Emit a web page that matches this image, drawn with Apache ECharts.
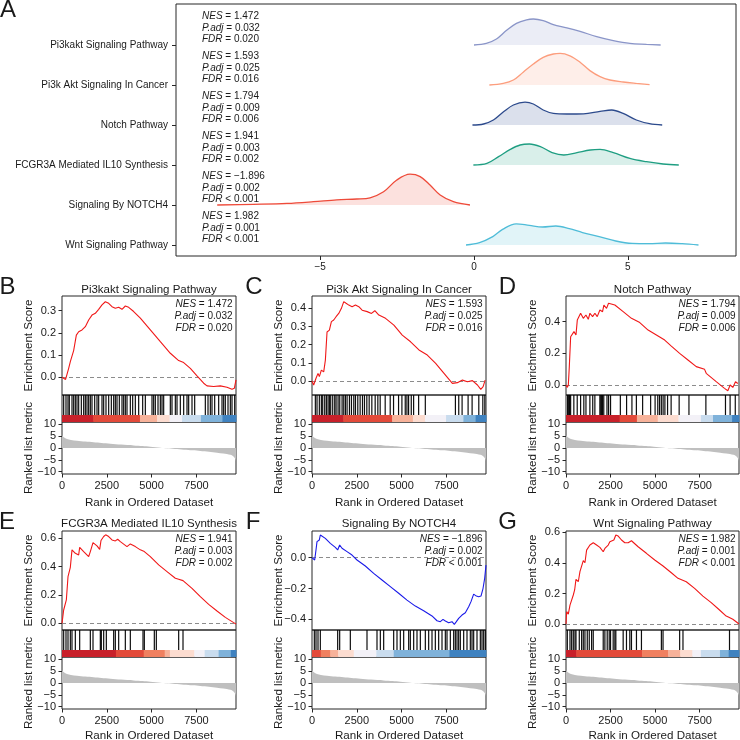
<!DOCTYPE html>
<html>
<head>
<meta charset="utf-8">
<script src="https://cdn.jsdelivr.net/npm/echarts@6/dist/echarts.min.js"></script>
<style>html,body{margin:0;padding:0;background:#fff}#chart{width:740px;height:740px}</style>
</head>
<body>
<div id="chart"></div>
<script>
// ---------------- DATA ----------------
const pathwayNames = ['Pi3kakt Signaling Pathway','Pi3k Akt Signaling In Cancer','Notch Pathway','FCGR3A Mediated IL10 Synthesis','Signaling By NOTCH4','Wnt Signaling Pathway'];
const nesValues = [1.472, 1.593, 1.794, 1.941, -1.896, 1.982];
const padjValues = ['0.032','0.025','0.009','0.003','0.002','0.001'];
const fdrValues = ['= 0.020','= 0.016','= 0.006','= 0.002','< 0.001','< 0.001'];
const ridgeTicks = [-5, 0, 5];
const ridgeColors = ['#8a95c8','#fc9d7d','#2c4a8c','#1f9e82','#ee4b3a','#4fbcd8'];

// ridge densities: [x, density]
const ridgePi3kakt = [[0.0,0],[0.4,0.04],[0.73,0.15],[1.05,0.36],[1.38,0.54],[1.71,0.63],[1.93,0.65],[2.25,0.61],[2.58,0.51],[3.02,0.43],[3.45,0.34],[3.99,0.21],[4.53,0.11],[5.07,0.04],[5.61,0.017],[6.07,0]];
const ridgePi3kAkt = [[0.5,0],[0.95,0.04],[1.28,0.125],[1.6,0.32],[1.93,0.525],[2.25,0.69],[2.58,0.775],[2.8,0.79],[3.12,0.73],[3.45,0.57],[3.77,0.36],[4.1,0.21],[4.42,0.125],[4.85,0.075],[5.28,0.04],[5.71,0.01]];
const ridgeNotch = [[-0.05,0],[0.31,0.025],[0.63,0.125],[0.96,0.33],[1.28,0.5],[1.66,0.57],[1.93,0.525],[2.25,0.375],[2.58,0.29],[3.02,0.275],[3.56,0.28],[4.1,0.34],[4.48,0.375],[4.85,0.29],[5.28,0.125],[5.71,0.033],[6.12,0]];
const ridgeFCGR3A = [[-0.02,0],[0.42,0.04],[0.8,0.21],[1.18,0.39],[1.5,0.5],[1.8,0.525],[2.16,0.46],[2.54,0.31],[2.92,0.25],[3.35,0.31],[3.78,0.375],[4.1,0.39],[4.53,0.31],[5.07,0.165],[5.61,0.083],[6.15,0.025],[6.66,0]];
const ridgeNOTCH4 = [[-8.35,0],[-7.17,0.017],[-6.08,0.04],[-5.22,0.083],[-4.46,0.13],[-3.81,0.15],[-3.38,0.18],[-2.94,0.33],[-2.51,0.625],[-2.08,0.77],[-1.75,0.71],[-1.43,0.5],[-1.1,0.25],[-0.67,0.083],[-0.13,0]];
const ridgeWnt = [[-0.26,0],[0.18,0.06],[0.61,0.21],[0.93,0.39],[1.37,0.53],[1.8,0.49],[2.23,0.45],[2.66,0.475],[3.1,0.41],[3.53,0.31],[4.07,0.21],[4.61,0.1],[5.15,0.04],[5.69,0.033],[6.23,0.05],[6.77,0.033],[7.3,0]];

const rankTicks = [0, 2500, 5000, 7500];
const rankMax = 9709;
const metricTicks = [-10, -5, 0, 5, 10];
const rankedMetric = [[0,5.4],[100,4.6],[279,3.8],[500,3.4],[837,3.1],[1300,2.7],[1767,2.4],[2200,2.1],[2700,1.8],[3300,1.45],[4000,1.1],[4500,0.8],[4930,0.56],[5490,0.14],[5860,-0.14],[6300,-0.4],[6790,-0.7],[7300,-1.0],[7720,-1.27],[8200,-1.6],[8650,-1.97],[9000,-2.3],[9200,-2.5],[9400,-2.9],[9550,-3.5],[9672,-4.6],[9709,-5.6]];

const esB = [[0,0],[93,-0.005],[200,-0.01],[372,0.04],[465,0.07],[558,0.078],[650,0.12],[800,0.19],[930,0.205],[1116,0.213],[1302,0.228],[1488,0.258],[1674,0.28],[1860,0.288],[2046,0.306],[2232,0.326],[2418,0.34],[2604,0.333],[2790,0.318],[2976,0.311],[3162,0.315],[3348,0.306],[3534,0.321],[3720,0.315],[3999,0.296],[4371,0.266],[4929,0.213],[5487,0.16],[6045,0.108],[6510,0.075],[6789,0.066],[7161,0.04],[7533,0.006],[7905,-0.027],[8091,-0.039],[8463,-0.042],[8835,-0.039],[9207,-0.045],[9486,-0.054],[9616,-0.05],[9709,-0.012]];
const esC = [[0,0],[93,-0.022],[224,0.015],[336,0.042],[410,0.024],[522,0.06],[653,0.05],[746,0.115],[839,0.27],[970,0.28],[1082,0.327],[1212,0.336],[1343,0.354],[1492,0.372],[1641,0.4],[1772,0.437],[1902,0.428],[2052,0.418],[2238,0.409],[2425,0.418],[2611,0.409],[2798,0.39],[3078,0.382],[3320,0.372],[3506,0.387],[3730,0.363],[4103,0.345],[4569,0.308],[5036,0.253],[5502,0.216],[5968,0.171],[6434,0.143],[6900,0.097],[7366,0.042],[7833,-0.013],[8113,-0.009],[8393,0.005],[8672,-0.004],[8952,0.002],[9232,-0.022],[9418,-0.046],[9549,-0.031],[9661,0.005]];
const esD = [[0,0],[75,-0.015],[130,0],[186,0.116],[261,0.305],[373,0.295],[448,0.337],[560,0.316],[634,0.41],[746,0.415],[820,0.453],[970,0.421],[1119,0.442],[1250,0.415],[1343,0.453],[1492,0.432],[1622,0.453],[1753,0.432],[1902,0.474],[2052,0.463],[2126,0.505],[2275,0.484],[2387,0.516],[2499,0.526],[2742,0.505],[3208,0.463],[3674,0.421],[4140,0.394],[4607,0.347],[5073,0.316],[5539,0.284],[5912,0.246],[6378,0.2],[6845,0.158],[7311,0.116],[7777,0.099],[7870,0.074],[8430,0.021],[8896,-0.021],[9083,-0.036],[9213,0],[9362,-0.015],[9512,0.021],[9643,0.01]];
const esE = [[0,0],[93,0.094],[186,0.082],[242,0.165],[335,0.329],[409,0.325],[465,0.395],[521,0.388],[558,0.518],[744,0.494],[930,0.482],[986,0.536],[1209,0.506],[1488,0.47],[1581,0.506],[1730,0.569],[1953,0.546],[2102,0.522],[2176,0.584],[2325,0.612],[2437,0.624],[2604,0.612],[2790,0.588],[2883,0.593],[2976,0.581],[3106,0.593],[3255,0.576],[3627,0.541],[3813,0.56],[4092,0.541],[4371,0.518],[4594,0.506],[4929,0.47],[5394,0.412],[5859,0.365],[6324,0.318],[6510,0.311],[6752,0.301],[7254,0.247],[7719,0.188],[8184,0.134],[8649,0.087],[9114,0.042],[9579,0.005],[9709,-0.005]];
const esF = [[0,0],[93,-0.011],[149,-0.015],[223,0.05],[279,0.104],[335,0.097],[409,0.115],[465,0.147],[744,0.125],[1023,0.093],[1302,0.067],[1432,0.05],[1544,0.082],[1674,0.061],[1953,0.039],[2232,0.017],[2511,-0.015],[2976,-0.054],[3441,-0.102],[3906,-0.145],[4371,-0.188],[4836,-0.231],[5301,-0.275],[5766,-0.314],[6231,-0.344],[6696,-0.378],[6975,-0.409],[7161,-0.415],[7310,-0.4],[7440,-0.411],[7626,-0.422],[7812,-0.415],[7942,-0.432],[8054,-0.415],[8184,-0.394],[8370,-0.372],[8556,-0.357],[8742,-0.318],[8872,-0.285],[9021,-0.236],[9170,-0.249],[9300,-0.253],[9430,-0.249],[9542,-0.2],[9635,-0.134],[9709,-0.048]];
const esG = [[0,0],[37,0.081],[130,0.065],[224,0.124],[317,0.113],[410,0.19],[485,0.223],[560,0.292],[690,0.277],[783,0.343],[877,0.353],[970,0.415],[1063,0.401],[1156,0.484],[1250,0.495],[1343,0.517],[1436,0.528],[1529,0.532],[1716,0.517],[1902,0.502],[2089,0.473],[2182,0.495],[2275,0.484],[2369,0.517],[2462,0.539],[2555,0.528],[2686,0.55],[2797,0.583],[2928,0.576],[3115,0.55],[3301,0.532],[3488,0.532],[3674,0.545],[3767,0.539],[4047,0.506],[4513,0.463],[4980,0.419],[5446,0.38],[5912,0.336],[6285,0.299],[6751,0.277],[7218,0.233],[7684,0.183],[8150,0.14],[8616,0.092],[8989,0.052],[9139,0.044],[9176,0.052],[9362,0.031],[9549,0.015],[9709,0]];

const hitsB = [93,223,335,409,558,651,744,837,930,1079,1209,1302,1395,1488,1581,1674,1823,1953,2046,2232,2325,2455,2604,2753,2883,2976,3069,3199,3348,3441,3534,3627,3813,3943,4092,4278,4501,4650,5022,5115,5208,5357,5487,5580,5673,6045,6138,6324,6417,6603,6789,6975,7068,7254,7403,7998,8147,8277,8370,8519,8742,8928,9021,9114,9263,9393,9486,9635];
const hitsC = [187,280,410,522,597,709,802,895,970,1044,1156,1268,1343,1455,1548,1679,1772,1865,1958,2089,2201,2331,2425,2555,2686,2817,2928,3059,3190,3339,3525,3674,3804,4084,4364,4550,4830,5017,5203,5297,5390,5539,5670,5950,6323,8002,8188,8375,8710,8934,9307,9531,9643];
const hitsD = [90,150,200,260,440,630,820,1000,1120,1340,1500,1620,1900,1950,2000,2050,2120,2300,2390,2500,3050,3400,3700,3950,4300,4750,5000,5150,5250,5350,5450,5550,5700,5900,6350,6900,7850,8950,9210,9500];
const hitsE = [93,223,335,465,558,744,986,1581,1730,2139,2195,2325,2474,2883,2976,3162,3534,3813,4520,4594,5152,5264,6510,6752];
const hitsF = [130,223,335,465,1432,1544,2139,3069,3627,3813,3999,4557,4743,4929,5115,5394,5487,5673,5859,6045,6324,6510,6696,6882,7068,7254,7440,7533,7719,7905,7998,8091,8184,8277,8463,8649,8835,8928,9021,9207,9393,9486,9579,9672];
const hitsG = [75,224,317,410,504,560,746,877,970,1063,1194,1306,1436,1529,2089,2182,2313,2425,2499,2648,2742,2797,3208,3394,3581,3674,3954,4234,5353,5446,6378,6565,9176];

const barPalette = ['#c8202a','#e34a3a','#f08060','#f7b29a','#fcdcd0','#f3f1f7','#c9dcee','#7fb2da','#3f82c0'];
// [startRank, endRank, paletteIndex]
const barB = [[0,1750,0],[1750,4350,1],[4350,5300,3],[5300,6000,4],[6000,6700,5],[6700,7750,6],[7750,8950,7],[8950,9709,8]];
const barC = [[0,1750,0],[1750,4470,1],[4470,5630,3],[5630,6310,4],[6310,7480,5],[7480,8450,6],[8450,9130,7],[9130,9709,8]];
const barD = [[0,3010,0],[3010,3980,1],[3980,5150,3],[5150,6310,4],[6310,7570,5],[7570,8250,6],[8250,9320,7],[9320,9709,8]];
const barE = [[0,3010,0],[3010,4560,1],[4560,5730,2],[5730,6020,3],[6020,7380,4],[7380,7960,5],[7960,8740,6],[8740,9420,7],[9420,9709,8]];
const barF = [[0,490,1],[490,1020,2],[1020,1460,3],[1460,2330,4],[2330,3590,5],[3590,4560,6],[4560,7670,7],[7670,9709,8]];
const barG = [[0,580,0],[580,4270,1],[4270,5730,2],[5730,6410,3],[6410,7090,4],[7090,7570,5],[7570,8640,6],[8640,9130,7],[9130,9709,8]];

const esTicksB = [0,0.1,0.2,0.3], esTicksC = [0,0.1,0.2,0.3,0.4], esTicksD = [0,0.2,0.4], esTicksE = [0,0.2,0.4,0.6], esTicksF = [-0.4,-0.2,0], esTicksG = [0,0.2,0.4,0.6];

// ---------------- BUILD ----------------
const FONT = '"Liberation Sans", Arial, Helvetica, sans-serif';
const TXT = '#1a1a1a';
const SPINE = '#262626';
const minus = s => String(s).replace('-', '\u2212');
const grids = [], xAxes = [], yAxes = [], series = [], graphics = [];
function addGrid(g) {
  grids.push(Object.assign({show: true, borderColor: SPINE, borderWidth: 1, backgroundColor: 'transparent', containLabel: false, outerBoundsMode: 'none'}, g));
  return grids.length - 1;
}
const noLine = {show: false, onZero: false};
function tickStyle(vals, len) { return {show: true, inside: false, length: len, lineStyle: {color: SPINE, width: 1}, customValues: vals}; }
function text(x, y, str, extra) {
  graphics.push(Object.assign({type: 'text', x: x, y: y, z: 100, style: Object.assign({text: str, fontFamily: FONT, fontSize: 11.6, fill: TXT, align: 'center', verticalAlign: 'middle'}, extra && extra.style)}, extra && extra.el));
}
function statText(x, y, str, align) {
  graphics.push({type: 'text', x: x, y: y, z: 100, style: {text: str, fontFamily: FONT, fontSize: 10, fill: TXT, align: align, verticalAlign: 'middle',
    rich: {i: {fontStyle: 'italic', fontFamily: FONT, fontSize: 10, fill: TXT}, n: {fontFamily: FONT, fontSize: 10, fill: TXT}}}});
}
function statLines(i) {
  return ['{i|NES}{n| = ' + minus(nesValues[i].toFixed(3)) + '}', '{i|P.adj}{n| = ' + padjValues[i] + '}', '{i|FDR}{n| ' + fdrValues[i] + '}'];
}

// Panel A
const ridges = [ridgePi3kakt, ridgePi3kAkt, ridgeNotch, ridgeFCGR3A, ridgeNOTCH4, ridgeWnt];
const catIdx = [0,1,2,3,4,5];
const gA = addGrid({left: 176, top: 4, width: 560, height: 252});
xAxes.push({gridIndex: gA, type: 'value', min: -9.69, max: 8.52, axisLine: noLine, splitLine: {show: false},
  axisTick: tickStyle(ridgeTicks, 4), axisLabel: {customValues: ridgeTicks, formatter: v => minus(v), fontSize: 10, fontFamily: FONT, color: TXT, margin: 6}});
const xA = xAxes.length - 1;
yAxes.push({gridIndex: gA, type: 'value', inverse: true, min: -1.025, max: 5.275, axisLine: noLine, splitLine: {show: false},
  axisTick: tickStyle(catIdx, 4), axisLabel: {customValues: catIdx, formatter: v => pathwayNames[Math.round(v)] || '', fontSize: 10, fontFamily: FONT, color: TXT, margin: 8}});
const yA = yAxes.length - 1;
ridges.forEach((r, i) => {
  series.push({type: 'line', xAxisIndex: xA, yAxisIndex: yA, data: r.map(p => [p[0], i - p[1]]), smooth: 0.35, symbol: 'none', z: 2 + i,
    lineStyle: {color: ridgeColors[i], width: 1.3}, areaStyle: {color: ridgeColors[i], opacity: 0.17, origin: i}, silent: true});
  const cy = 45 + 40 * i;
  const lines = statLines(i);
  statText(202, cy - 29, lines[0], 'left');
  statText(202, cy - 17.2, lines[1], 'left');
  statText(202, cy - 5.4, lines[2], 'left');
});
text(8, 10, 'A', {style: {fontSize: 24}});

// GSEA panels
const panels = [
  {letter: 'B', lx: 7.5,  es: esB, hits: hitsB, bar: barB, yMin: -0.08,  yMax: 0.366, ticks: esTicksB, col: 0, row: 0, color: '#f01818'},
  {letter: 'C', lx: 254,  es: esC, hits: hitsC, bar: barC, yMin: -0.077, yMax: 0.468, ticks: esTicksC, col: 1, row: 0, color: '#f01818'},
  {letter: 'D', lx: 507.5,es: esD, hits: hitsD, bar: barD, yMin: -0.063, yMax: 0.562, ticks: esTicksD, col: 2, row: 0, color: '#f01818'},
  {letter: 'E', lx: 7,    es: esE, hits: hitsE, bar: barE, yMin: -0.047, yMax: 0.651, ticks: esTicksE, col: 0, row: 1, color: '#f01818'},
  {letter: 'F', lx: 253,  es: esF, hits: hitsF, bar: barF, yMin: -0.469, yMax: 0.173, ticks: esTicksF, col: 1, row: 1, color: '#1a1ae8'},
  {letter: 'G', lx: 507.5,es: esG, hits: hitsG, bar: barG, yMin: -0.039, yMax: 0.609, ticks: esTicksG, col: 2, row: 1, color: '#f01818'}
];
const colLeft = [62, 312, 566], colW = [174, 174, 173], rowOff = [0, 235];
const BAR_TOP = 0.26;
panels.forEach((p, k) => {
  const L = colLeft[p.col], W = colW[p.col], off = rowOff[p.row];
  const esTop = 296 + off, hitTop = 395 + off, rkTop = 422 + off;
  // ES grid
  const g1 = addGrid({left: L, top: esTop, width: W, height: 99});
  xAxes.push({gridIndex: g1, type: 'value', min: 0, max: rankMax, show: false, axisLine: noLine});
  yAxes.push({gridIndex: g1, type: 'value', min: p.yMin, max: p.yMax, axisLine: noLine, splitLine: {show: false},
    axisTick: tickStyle(p.ticks, 3.5), axisLabel: {customValues: p.ticks, formatter: v => minus(v.toFixed(1)), fontSize: 11, fontFamily: FONT, color: TXT, margin: 6}});
  series.push({type: 'line', xAxisIndex: xAxes.length - 1, yAxisIndex: yAxes.length - 1, data: p.es, symbol: 'none', silent: true,
    lineStyle: {color: p.color, width: 1.1}, z: 5,
    markLine: {silent: true, symbol: 'none', label: {show: false}, lineStyle: {color: '#8c8c8c', type: [4, 3], width: 1}, data: [{yAxis: 0}], z: 3}});
  // hits grid
  const g2 = addGrid({left: L, top: hitTop, width: W, height: 27});
  xAxes.push({gridIndex: g2, type: 'value', min: 0, max: rankMax, show: false, axisLine: noLine});
  yAxes.push({gridIndex: g2, type: 'value', min: 0, max: 1, show: false, axisLine: noLine});
  const xi = xAxes.length - 1, yi = yAxes.length - 1;
  series.push({type: 'custom', xAxisIndex: xi, yAxisIndex: yi, data: p.bar, encode: {x: [0, 1]}, silent: true, z: 2,
    renderItem: (params, api) => {
      const a = api.coord([api.value(0), BAR_TOP]), b = api.coord([api.value(1), 0]);
      return {type: 'rect', shape: {x: a[0], y: a[1], width: b[0] - a[0] + 0.5, height: b[1] - a[1]}, style: {fill: barPalette[api.value(2)]}};
    }});
  series.push({type: 'custom', xAxisIndex: xi, yAxisIndex: yi, data: p.hits.map(h => [h, 1]), encode: {x: 0, y: 1}, silent: true, z: 3,
    renderItem: (params, api) => {
      const a = api.coord([api.value(0), 1]), b = api.coord([api.value(0), BAR_TOP]);
      return {type: 'line', shape: {x1: a[0], y1: a[1], x2: b[0], y2: b[1]}, style: {stroke: '#000', lineWidth: 1.2, opacity: 0.95}};
    }});
  // ranked grid
  const g3 = addGrid({left: L, top: rkTop, width: W, height: 52});
  xAxes.push({gridIndex: g3, type: 'value', min: 0, max: rankMax, axisLine: noLine, splitLine: {show: false},
    axisTick: tickStyle(rankTicks, 3.5), axisLabel: {customValues: rankTicks, formatter: v => String(v), fontSize: 11, fontFamily: FONT, color: TXT, margin: 6}});
  yAxes.push({gridIndex: g3, type: 'value', min: -11, max: 11, axisLine: noLine, splitLine: {show: false},
    axisTick: tickStyle(metricTicks, 3.5), axisLabel: {customValues: metricTicks, formatter: v => minus(v), fontSize: 11, fontFamily: FONT, color: TXT, margin: 6}});
  series.push({type: 'line', xAxisIndex: xAxes.length - 1, yAxisIndex: yAxes.length - 1, data: rankedMetric, symbol: 'none', smooth: 0.3, silent: true,
    lineStyle: {width: 0, color: '#bfbfbf'}, areaStyle: {color: '#bfbfbf', opacity: 1}});
  // texts
  text(p.lx, 287 + (p.row ? 235 : 0), p.letter, {style: {fontSize: 24}});
  text(L + W / 2, esTop - 6.5 - (p.row ? 1 : 0), pathwayNames[k], {style: {fontSize: 11.5}});
  text(L - 33.5, esTop + 49.5, 'Enrichment Score', {el: {rotation: Math.PI / 2}});
  text(L - 33.5, rkTop + 26, 'Ranked list metric', {el: {rotation: Math.PI / 2}});
  text(L + W / 2, rkTop + 52 + 29 - (p.row ? 2.5 : 0), 'Rank in Ordered Dataset', {style: {fontSize: 11.6}});
  const lines = statLines(k);
  const rx = L + W - 3.5;
  statText(rx, esTop + 7.8, lines[0], 'right');
  statText(rx, esTop + 19.8, lines[1], 'right');
  statText(rx, esTop + 31.8, lines[2], 'right');
});

const chart = echarts.init(document.getElementById('chart'), null, {renderer: 'canvas'});
chart.setOption({animation: false, backgroundColor: '#fff', grid: grids, xAxis: xAxes, yAxis: yAxes, series: series, graphic: graphics});
</script>
</body>
</html>
